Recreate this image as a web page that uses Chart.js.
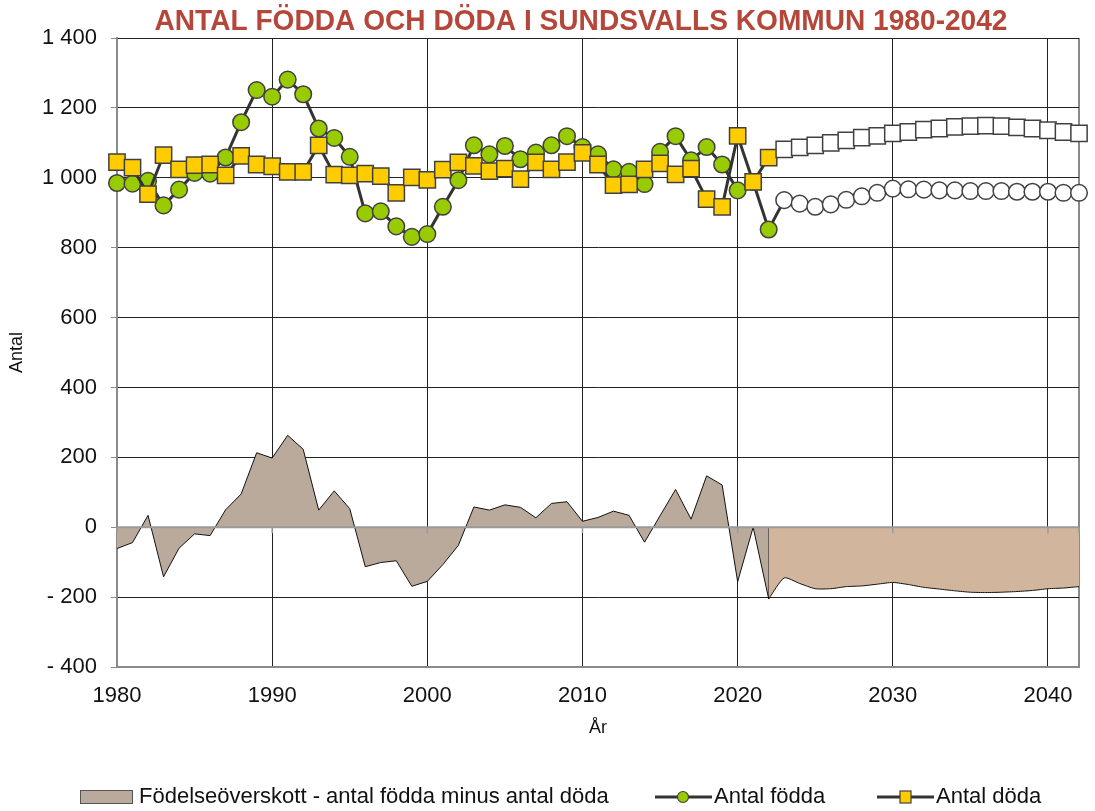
<!DOCTYPE html>
<html>
<head>
<meta charset="utf-8">
<script src="https://cdn.jsdelivr.net/npm/chart.js@4.4.1/dist/chart.umd.min.js"></script>
<style>
  html, body { margin: 0; padding: 0; background: #fff; }
  #wrap { width: 1095px; height: 811px; }
</style>
</head>
<body>
<div id="wrap"><canvas id="chart" width="1095" height="811"></canvas></div>
<script>
// Årtal
const years = [
    1980, 1981, 1982, 1983, 1984, 1985, 1986, 1987, 1988, 1989,
    1990, 1991, 1992, 1993, 1994, 1995, 1996, 1997, 1998, 1999,
    2000, 2001, 2002, 2003, 2004, 2005, 2006, 2007, 2008, 2009,
    2010, 2011, 2012, 2013, 2014, 2015, 2016, 2017, 2018, 2019,
    2020, 2021, 2022, 2023, 2024, 2025, 2026, 2027, 2028, 2029,
    2030, 2031, 2032, 2033, 2034, 2035, 2036, 2037, 2038, 2039,
    2040, 2041, 2042
];
const xTickYears = [1980, 1990, 2000, 2010, 2020, 2030, 2040];

// Utfall 1980-2022
const foddaUtfall = [
    985, 983, 991, 921, 966, 1014, 1012, 1058, 1159, 1251,
    1232, 1281, 1239, 1141, 1114, 1060, 898, 904, 861, 831,
    839, 917, 993, 1093, 1067, 1091, 1053, 1072, 1093, 1119,
    1088, 1067, 1024, 1017, 982, 1074, 1119, 1050, 1088, 1038,
    964, 988, 852
];
const dodaUtfall = [
    1045, 1029, 953, 1065, 1024, 1036, 1038, 1007, 1063, 1038,
    1033, 1017, 1017, 1093, 1009, 1007, 1012, 1005, 957, 1001,
    994, 1023, 1044, 1034, 1019, 1026, 996, 1044, 1024, 1045,
    1071, 1038, 979, 981, 1024, 1041, 1010, 1026, 939, 917,
    1120, 988, 1058
];
const overskottUtfall = [
    -61, -44, 34, -142, -60, -19, -24, 50, 95, 213,
    198, 263, 223, 49, 104, 53, -113, -101, -96, -169,
    -155, -107, -52, 58, 49, 64, 57, 27, 68, 73,
    17, 28, 46, 34, -43, 33, 108, 23, 147, 121,
    -156, 0, -205
];

// Prognos 2023-2042
const foddaPrognos = [
    936, 926, 917, 924, 937, 947, 957, 969, 967, 966,
    964, 964, 962, 962, 962, 960, 960, 960, 957, 957
];
const dodaPrognos = [
    1081, 1087, 1093, 1100, 1107, 1115, 1120, 1127, 1131, 1138,
    1141, 1146, 1148, 1149, 1148, 1144, 1141, 1136, 1131, 1127
];
// prognosytan börjar i 2022 års värde
const overskottPrognos = [
    -205, -145, -161, -176, -176, -170, -168, -163, -158, -164,
    -172, -177, -182, -186, -187, -186, -184, -181, -176, -174,
    -170
];

const nUtfall = foddaUtfall.length;
const fodda = foddaUtfall.concat(foddaPrognos);
const doda = dodaUtfall.concat(dodaPrognos);
const sistaAr = years[years.length - 1];

const toPoints = (vals, start) => vals.map((v, i) => ({ x: years[start + i], y: v }));

const gron = '#99cc00';
const gul = '#ffcc00';
const kant = '#404040';

// nollinje, titel och förklaring ritas för hand
const egnaDetaljer = {
    id: 'egnaDetaljer',
    afterDatasetsDraw(chart) {
        const { ctx, chartArea, scales } = chart;
        const y0 = scales.y.getPixelForValue(0);
        ctx.save();
        ctx.strokeStyle = '#9a9a9a';
        ctx.lineWidth = 2;
        ctx.beginPath();
        ctx.moveTo(chartArea.left, y0);
        ctx.lineTo(chartArea.right, y0);
        ctx.stroke();
        ctx.lineWidth = 1.5;
        scales.x.ticks.forEach(t => {
            const x = scales.x.getPixelForValue(t.value);
            ctx.beginPath();
            ctx.moveTo(x, y0);
            ctx.lineTo(x, y0 + 6);
            ctx.stroke();
        });
        ctx.restore();
    },
    afterDraw(chart) {
        const { ctx } = chart;
        ctx.save();
        // titel
        ctx.font = 'bold 30px "Liberation Sans", sans-serif';
        ctx.fillStyle = '#b5473a';
        ctx.textBaseline = 'alphabetic';
        const titel = 'ANTAL FÖDDA OCH DÖDA I SUNDSVALLS KOMMUN 1980-2042';
        const w = ctx.measureText(titel).width;
        ctx.translate(581, 30);
        ctx.scale(853 / w, 1);
        ctx.textAlign = 'center';
        ctx.fillText(titel, 0, 0);
        ctx.restore();

        // förklaring
        const ly = 797;
        ctx.save();
        ctx.font = '22px "Liberation Sans", sans-serif';
        ctx.textBaseline = 'middle';
        ctx.textAlign = 'left';

        ctx.fillStyle = '#b9aa9b';
        ctx.fillRect(80, ly - 7, 53, 14);
        ctx.strokeStyle = '#555';
        ctx.lineWidth = 1;
        ctx.strokeRect(80.5, ly - 6.5, 52, 13);
        ctx.fillStyle = '#111';
        ctx.fillText('Födelseöverskott - antal födda minus antal döda', 139, ly);

        ctx.strokeStyle = '#333';
        ctx.lineWidth = 3;
        ctx.beginPath();
        ctx.moveTo(655, ly); ctx.lineTo(712, ly);
        ctx.moveTo(877, ly); ctx.lineTo(934, ly);
        ctx.stroke();

        ctx.lineWidth = 1.2;
        ctx.strokeStyle = kant;
        ctx.fillStyle = gron;
        ctx.beginPath();
        ctx.arc(683, ly, 5.5, 0, Math.PI * 2);
        ctx.fill(); ctx.stroke();

        ctx.fillStyle = gul;
        ctx.fillRect(900, ly - 6, 11, 12);
        ctx.strokeRect(900, ly - 6, 11, 12);

        ctx.fillStyle = '#111';
        ctx.fillText('Antal födda', 714, ly);
        ctx.fillText('Antal döda', 936, ly);
        ctx.restore();
    }
};

const formatY = v => {
    if (v < 0) return '- ' + Math.abs(v);
    if (v >= 1000) return Math.floor(v / 1000) + ' ' + String(v % 1000).padStart(3, '0');
    return String(v);
};

const ctx = document.getElementById('chart').getContext('2d');
new Chart(ctx, {
    type: 'line',
    data: {
        datasets: [
            {
                label: 'Antal döda',
                data: toPoints(doda, 0),
                borderColor: '#333',
                borderWidth: 3,
                pointStyle: 'rect',
                pointRadius: 11.5,
                pointBorderWidth: 1.5,
                pointBorderColor: kant,
                pointBackgroundColor: c => c.dataIndex < nUtfall ? gul : '#fff',
                fill: false,
                tension: 0,
                clip: false
            },
            {
                label: 'Antal födda',
                data: toPoints(fodda, 0),
                borderColor: '#333',
                borderWidth: 3,
                pointStyle: 'circle',
                pointRadius: 8.3,
                pointBorderWidth: 1.5,
                pointBorderColor: kant,
                pointBackgroundColor: c => c.dataIndex < nUtfall ? gron : '#fff',
                fill: false,
                tension: 0,
                clip: false
            },
            {
                label: 'Födelseöverskott - antal födda minus antal döda',
                data: toPoints(overskottUtfall, 0),
                borderColor: '#111',
                borderWidth: 1,
                backgroundColor: '#b9aa9b',
                pointRadius: 0,
                fill: 'origin',
                tension: 0
            },
            {
                label: 'Födelseöverskott prognos',
                data: toPoints(overskottPrognos, nUtfall - 1),
                borderColor: '#111',
                borderWidth: 1,
                backgroundColor: '#d2b59d',
                pointRadius: 0,
                fill: 'origin',
                tension: 0.2
            },
            {
                label: 'skiljelinje',
                data: [
                    { x: years[nUtfall - 1], y: 0 },
                    { x: years[nUtfall - 1], y: overskottPrognos[0] }
                ],
                borderColor: '#111',
                borderWidth: 1,
                pointRadius: 0,
                fill: false
            }
        ]
    },
    options: {
        responsive: false,
        animation: false,
        layout: { padding: { top: 38, right: 13, left: 0, bottom: 0 } },
        plugins: {
            legend: { display: false },
            title: { display: false },
            tooltip: { enabled: false }
        },
        scales: {
            x: {
                type: 'linear',
                min: years[0],
                max: sistaAr,
                afterBuildTicks: axis => {
                    axis.ticks = xTickYears.concat([sistaAr]).map(v => ({ value: v }));
                },
                afterFit: axis => { axis.height = 144; },
                ticks: {
                    autoSkip: false,
                    maxRotation: 0,
                    padding: 16,
                    color: '#111',
                    font: { family: '"Liberation Sans", sans-serif', size: 22 },
                    callback: v => v === sistaAr ? '' : String(v)
                },
                grid: {
                    drawTicks: false,
                    color: c => c.tick && c.tick.value === sistaAr ? '#8a8a8a' : '#222',
                    lineWidth: c => c.tick && c.tick.value === sistaAr ? 2 : 1
                },
                border: { color: '#8a8a8a', width: 2 },
                title: {
                    display: true,
                    text: 'År',
                    color: '#111',
                    font: { family: '"Liberation Sans", sans-serif', size: 18 },
                    padding: { top: 0, bottom: 72 }
                }
            },
            y: {
                min: -400,
                max: 1400,
                afterFit: axis => { axis.width = 117; },
                ticks: {
                    stepSize: 200,
                    padding: 14,
                    color: '#111',
                    font: { family: '"Liberation Sans", sans-serif', size: 22 },
                    callback: v => formatY(v)
                },
                grid: {
                    tickLength: 6,
                    tickColor: '#8a8a8a',
                    color: c => c.tick && c.tick.value === 0 ? 'rgba(0,0,0,0)' : '#222',
                    lineWidth: 1
                },
                border: { color: '#8a8a8a', width: 2 },
                title: {
                    display: true,
                    text: 'Antal',
                    color: '#111',
                    font: { family: '"Liberation Sans", sans-serif', size: 18 },
                    padding: { top: 6, bottom: 0 }
                }
            }
        }
    },
    plugins: [egnaDetaljer]
});
</script>
</body>
</html>
